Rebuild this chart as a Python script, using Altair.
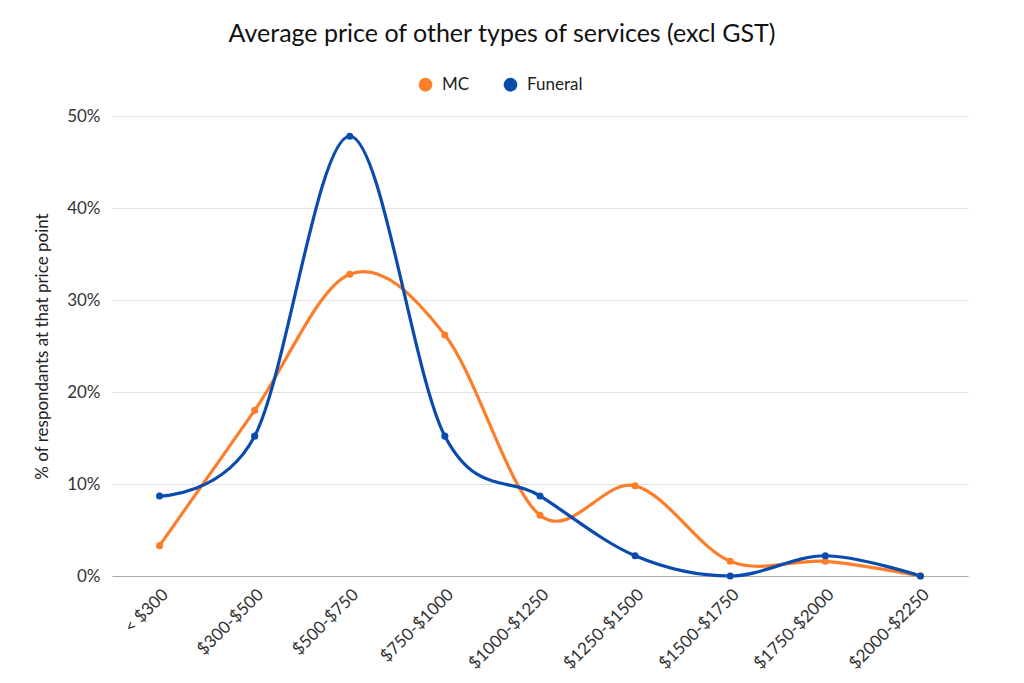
import altair as alt
import pandas as pd

categories = ["< $300", "$300-$500", "$500-$750", "$750-$1000", "$1000-$1250",
              "$1250-$1500", "$1500-$1750", "$1750-$2000", "$2000-$2250"]
mc = [3.3, 18.0, 32.8, 26.2, 6.6, 9.8, 1.6, 1.6, 0.0]
funeral = [8.7, 15.2, 47.8, 15.2, 8.7, 2.2, 0.0, 2.2, 0.0]
series = ["MC", "Funeral"]
colors = ["#fd7e2a", "#0a4cad"]

rows = []
for i, c in enumerate(categories):
    rows.append({"cat": c, "series": "MC", "value": mc[i], "order": i})
    rows.append({"cat": c, "series": "Funeral", "value": funeral[i], "order": i})
df = pd.DataFrame(rows)

FONT = "Lato"

x = alt.X("cat:N", sort=categories, scale=alt.Scale(padding=0.5),
          axis=alt.Axis(title=None, labelAngle=-45, labelFontSize=17, labelColor="#333",
                        labelFont=FONT, ticks=False, domain=True, domainColor="#aaa",
                        labelPadding=10, grid=False))
y = alt.Y("value:Q", scale=alt.Scale(domain=[0, 50], nice=False),
          axis=alt.Axis(title="% of respondants at that price point", values=[0, 10, 20, 30, 40, 50],
                        labelExpr="datum.value + '%'", labelFontSize=17, labelColor="#333",
                        labelFont=FONT, titleFont=FONT, titleFontSize=17, titleFontWeight="normal",
                        titleColor="#222", titlePadding=15, domain=False, ticks=False,
                        gridColor="#e2e2e2", labelPadding=12))
color = alt.Color("series:N", scale=alt.Scale(domain=series, range=colors),
                  legend=alt.Legend(title=None, orient="none", direction="horizontal",
                                    legendX=305, legendY=-40, symbolType="circle",
                                    symbolSize=190, symbolStrokeWidth=0, labelFontSize=17,
                                    labelFont=FONT, labelColor="#222", columnPadding=32,
                                    labelOffset=8))

base = alt.Chart(df)
lines = base.mark_line(interpolate="cardinal", strokeWidth=3.2).encode(
    x=x, y=y, color=color, order="order:Q")
points = base.mark_circle(size=50, opacity=1).encode(
    x=x, y=y, color=alt.Color("series:N", scale=alt.Scale(domain=series, range=colors), legend=None))

chart = alt.layer(lines, points).properties(
    width=856, height=460,
    background="white",
    title=alt.Title("Average price of other types of services (excl GST)", fontSize=25,
                    font=FONT, fontWeight="normal", color="#111", anchor="middle",
                    dx=-38, offset=29),
    autosize=alt.AutoSizeParams(type="none"),
    padding={"left": 112, "top": 116, "right": 56, "bottom": 107},
).configure_view(strokeWidth=0)

chart.save("out.html", embed_options={"renderer": "svg", "actions": False})
